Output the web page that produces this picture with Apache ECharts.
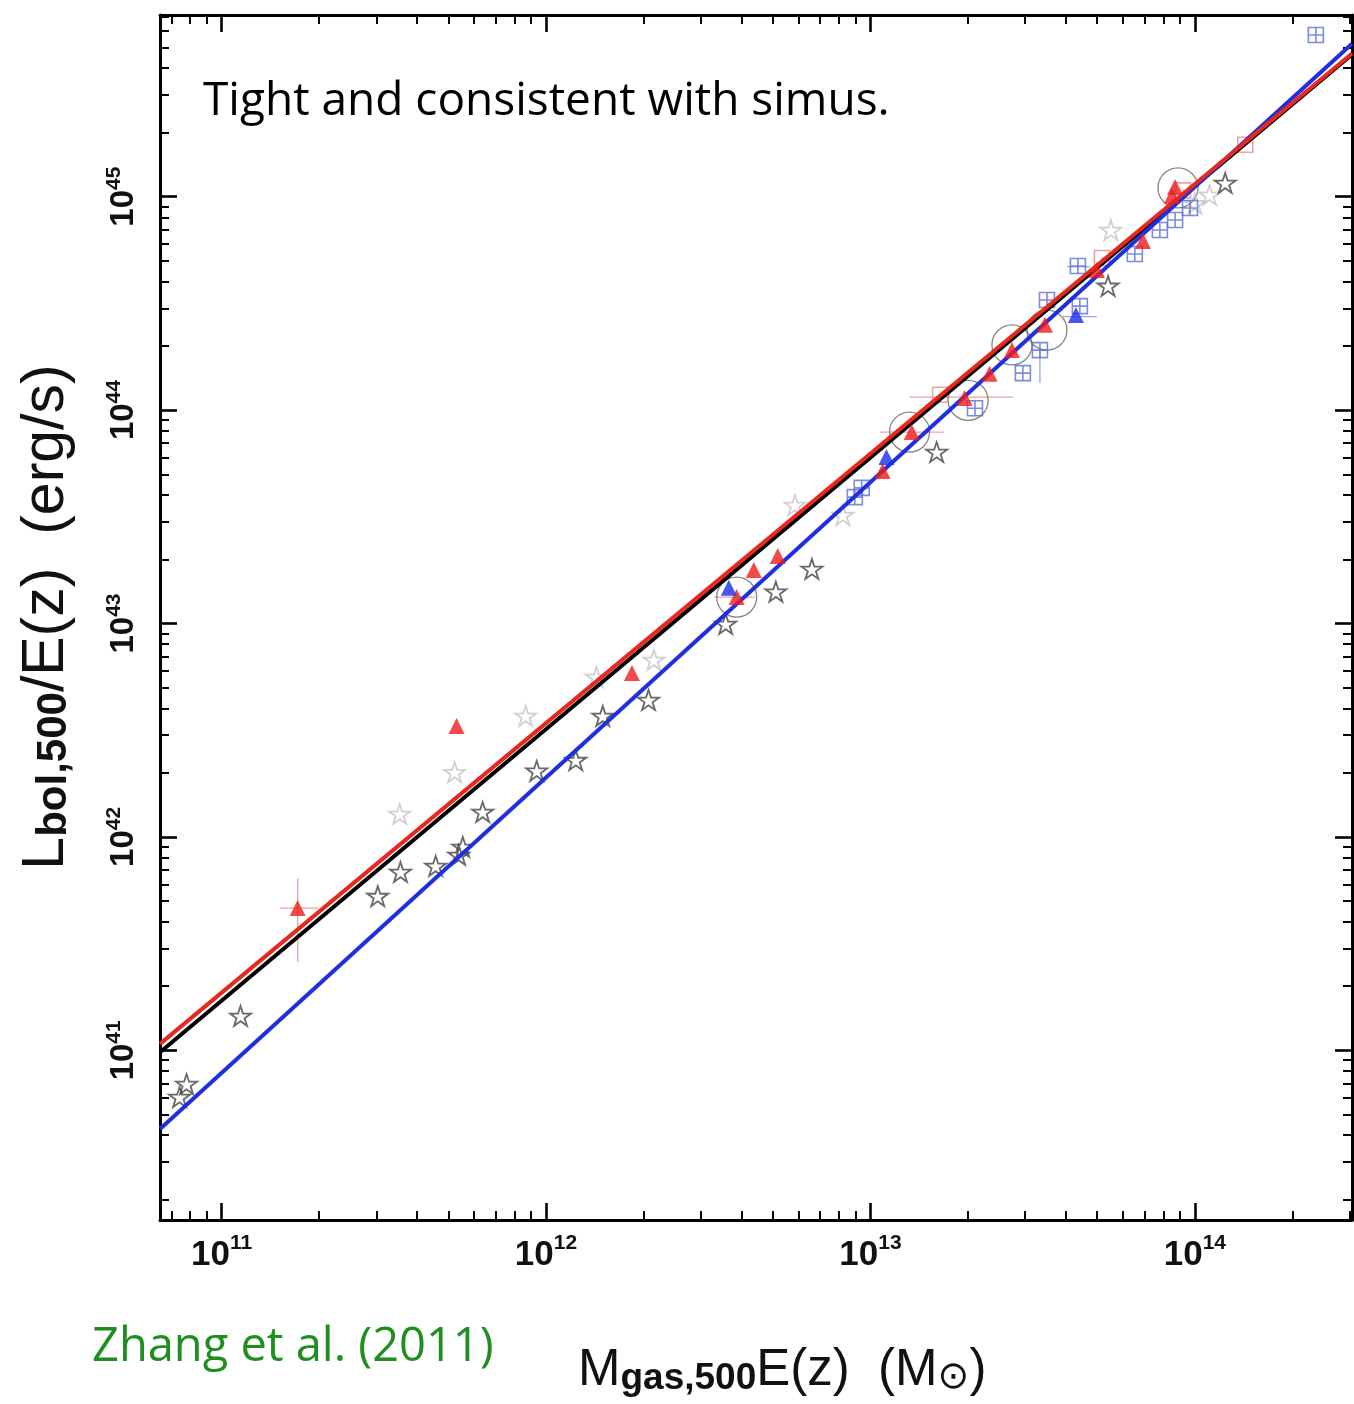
<!DOCTYPE html>
<html><head><meta charset="utf-8">
<script src="https://cdn.jsdelivr.net/npm/echarts@6/dist/echarts.min.js"></script>
<style>html,body{margin:0;padding:0;background:#fff}#c{width:1354px;height:1404px}</style>
</head><body><div id="c"></div>
<script>
// ---------------- data ----------------
const xTickExps = [11, 12, 13, 14];            // 10^11 ... 10^14  (Msun)
const yTickExps = [41, 42, 43, 44, 45];        // 10^41 ... 10^45  (erg/s)
const xRange = [6.46e10, 3.05e14];
const yRange = [1.603e40, 7.10e45];

// fit lines (end points)
const fitBlack = [[6.46e10, 9.79e40], [3.05e14, 4.64e45]];
const fitRed   = [[6.46e10, 1.072e41], [3.05e14, 4.69e45]];
const fitBlue  = [[6.46e10, 4.28e40], [3.05e14, 5.21e45]];

// [Mgas, Lbol]
const starsDark = [[7.42e10,6.04e40],[7.80e10,6.95e40],[1.144e11,1.449e41],[3.03e11,5.28e41],[3.56e11,6.85e41],
  [4.57e11,7.31e41],[5.38e11,8.23e41],[5.54e11,8.97e41],[6.38e11,1.309e42],[9.36e11,2.04e42],[1.235e12,2.29e42],
  [1.496e12,3.69e42],[2.07e12,4.38e42],[3.58e12,9.95e42],[5.11e12,1.41e43],[6.60e12,1.80e43],[1.60e13,6.36e43],
  [5.40e13,3.82e44],[1.24e14,1.16e45]];
const starsLight = [[3.54e11,1.28e42],[5.23e11,2.01e42],[8.66e11,3.69e42],[1.43e12,5.61e42],[2.15e12,6.75e42],
  [5.85e12,3.59e43],[8.22e12,3.22e43],[5.51e13,6.98e44],[1.0e14,9.3e44],[1.11e14,1.02e45]];
const triRed = [[1.716e11,4.64e41],[5.30e11,3.31e42],[1.84e12,5.86e42],[3.87e12,1.33e43],[4.37e12,1.78e43],
  [5.18e12,2.07e43],[1.09e13,5.18e43],[1.34e13,7.89e43],[1.95e13,1.14e44],[2.33e13,1.48e44],[2.73e13,1.91e44],
  [3.45e13,2.51e44],[4.99e13,4.53e44],[6.92e13,6.20e44],[8.69e13,1.11e45],[8.50e13,1.01e45]];
const triBlue = [[3.66e12,1.47e43],[1.12e13,6.03e43],[4.30e13,2.79e44]];
const sqBlue = [[2.36e14,5.72e45],[2.95e13,1.49e44],[3.33e13,1.91e44],[4.42e13,3.07e44],[4.36e13,4.73e44],
  [6.53e13,5.39e44],[7.80e13,6.98e44],[8.69e13,7.78e44],[9.66e13,8.85e44],[9.40e12,4.32e43],[8.95e12,3.91e43],
  [2.10e13,1.02e44],[3.50e13,3.28e44]];
const sqRed = [[1.43e14,1.75e45],[1.64e13,1.18e44],[5.17e13,5.16e44],[9.19e13,1.07e45]];
const bigCircles = [[3.87e12,1.33e43],[1.32e13,7.89e43],[2.00e13,1.11e44],[2.73e13,2.02e44],[3.50e13,2.37e44],[8.87e13,1.10e45]];
// error bars [x1, y1, x2, y2]
const errRed = [[1.51e11,4.64e41,1.98e11,4.64e41],[1.716e11,2.59e41,1.716e11,6.41e41],
  [1.32e13,1.15e44,2.75e13,1.15e44],[1.07e13,7.89e43,1.69e13,7.89e43],[3.30e12,1.33e43,4.40e12,1.33e43]];
const errBlue = [[3.33e13,1.34e44,3.33e13,1.91e44],[3.92e13,2.74e44,4.99e13,2.74e44],[4.04e13,4.70e44,4.75e13,4.70e44]];

// ---------------- helpers ----------------
const lg = Math.log10;
const toLog = arr => arr.map(p => [lg(p[0]), lg(p[1])]);
const minorTicks = (lo, hi) => { const r = []; for (let n = lo; n <= hi; n++) for (let k = 2; k <= 9; k++) r.push(lg(k) + n); return r; };

const xMin = lg(xRange[0]), xMax = lg(xRange[1]);
const yMin = lg(yRange[0]), yMax = lg(yRange[1]);

const tickFont = 'Liberation Sans, Arial, sans-serif';
const xLabelRich = {
  b: { fontSize: 35, fontWeight: 'bold', fontFamily: tickFont, color: '#111', lineHeight: 40, verticalAlign: 'bottom' },
  s: { fontSize: 21, fontWeight: 'bold', fontFamily: tickFont, color: '#111', lineHeight: 17, verticalAlign: 'top' }
};
const yLabelRich = {
  b: { fontSize: 33, fontWeight: 'bold', fontFamily: tickFont, color: '#111', lineHeight: 36, verticalAlign: 'bottom' },
  s: { fontSize: 21, fontWeight: 'bold', fontFamily: tickFont, color: '#111', lineHeight: 15, verticalAlign: 'top' }
};

function axis(dim, pos, ticks, len, labels, line) {
  const a = {
    type: 'value', position: pos,
    min: dim === 'x' ? xMin : yMin, max: dim === 'x' ? xMax : yMax,
    splitLine: { show: false },
    axisLine: { show: line, onZero: false, lineStyle: { color: '#000', width: 3 } },
    axisTick: { show: true, inside: true, length: len, customValues: ticks, lineStyle: { color: '#000', width: len > 12 ? 2.6 : 2 } },
    axisLabel: { show: false }
  };
  if (labels) {
    a.axisLabel = dim === 'x'
      ? { show: true, customValues: ticks, margin: 13, formatter: v => '{b|10}{s|' + Math.round(v) + '}', rich: xLabelRich }
      : { show: true, customValues: ticks, margin: 20, rotate: 90, formatter: v => '{b|10}{s|' + Math.round(v) + '}', rich: yLabelRich };
  }
  return a;
}

const starPath = 'path://M50,2 L61.2,36.5 L97.6,36.5 L68.2,57.9 L79.4,92.5 L50,71.1 L20.6,92.5 L31.8,57.9 L2.4,36.5 L38.8,36.5 Z';
const boxCross = 'path://M0,0 L10,0 L10,10 L0,10 Z M5,0 L5,10 M0,5 L10,5';
const boxDot = 'path://M0,0 L10,0 L10,10 L0,10 Z M4.5,5 L5.5,5';

function scatter(data, symbol, size, fill, stroke, bw, z) {
  return { type: 'scatter', data: toLog(data), symbol, symbolSize: size, symbolKeepAspect: true, z,
    itemStyle: { color: fill, borderColor: stroke, borderWidth: bw }, silent: true };
}
function lineSeries(pts, color, z) {
  return { type: 'line', data: toLog(pts), showSymbol: false, z, silent: true,
    lineStyle: { color, width: 4 }, clip: true };
}
function errSeries(bars, color) {
  return { type: 'custom', silent: true, z: 1,
    data: bars.map(b => [lg(b[0]), lg(b[1]), lg(b[2]), lg(b[3])]),
    encode: { x: [0, 2], y: [1, 3] },
    renderItem: (params, api) => {
      const p1 = api.coord([api.value(0), api.value(1)]);
      const p2 = api.coord([api.value(2), api.value(3)]);
      return { type: 'line', shape: { x1: p1[0], y1: p1[1], x2: p2[0], y2: p2[1] }, style: { stroke: color, lineWidth: 1.3 } };
    } };
}

const chart = echarts.init(document.getElementById('c'));
chart.setOption({
  animation: false,
  backgroundColor: '#fff',
  grid: { left: 160, top: 15, width: 1192, height: 1205 },
  xAxis: [
    axis('x', 'bottom', xTickExps, 17, true, true),
    axis('x', 'bottom', minorTicks(10, 14), 9, false, false),
    axis('x', 'top', xTickExps, 17, false, true),
    axis('x', 'top', minorTicks(10, 14), 9, false, false)
  ],
  yAxis: [
    axis('y', 'left', yTickExps, 17, true, true),
    axis('y', 'left', minorTicks(40, 45), 9, false, false),
    axis('y', 'right', yTickExps, 17, false, true),
    axis('y', 'right', minorTicks(40, 45), 9, false, false)
  ],
  series: [
    errSeries(errRed, '#f2a0a0'),
    errSeries(errBlue, '#9aa6ee'),
    scatter(bigCircles, 'circle', 40, 'rgba(0,0,0,0)', '#666', 1.3, 2),
    scatter(starsLight, starPath, 21, 'rgba(0,0,0,0)', '#c4c4c4', 1.8, 3),
    scatter(starsDark, starPath, 21, 'rgba(0,0,0,0)', '#444', 1.8, 3),
    scatter(sqBlue, boxCross, 15, 'rgba(0,0,0,0)', '#5a6ed8', 1.6, 3),
    scatter(sqRed, boxDot, 15, 'rgba(0,0,0,0)', '#ee8888', 1.6, 3),
    lineSeries(fitBlack, '#000000', 4),
    lineSeries(fitBlue, '#1f2fe0', 5),
    lineSeries(fitRed, '#e8281e', 6),
    scatter(triRed, 'triangle', 16, '#f01c1c', '#f01c1c', 0, 7),
    scatter(triBlue, 'triangle', 16, '#1c2ce8', '#1c2ce8', 0, 7)
  ],
  graphic: [
    { type: 'text', x: 203, y: 102, z: 10, style: { text: 'Tight and consistent with simus.', fill: '#000',
      font: '46px "Open Sans", sans-serif', align: 'left', verticalAlign: 'middle' } },
    { type: 'text', x: 92, y: 1348, z: 10, style: { text: 'Zhang et al. (2011)', fill: '#1e8f1e',
      font: '47px "Open Sans", sans-serif', align: 'left', verticalAlign: 'middle' } },
    { type: 'text', x: 578, y: 1371, z: 10, style: {
      text: '{m|M}{s|gas,500}{m|E(z)  (M}{o|⊙}{m|)}', align: 'left', verticalAlign: 'middle',
      rich: {
        m: { fontSize: 51, fontFamily: tickFont, fill: '#111', lineHeight: 52, verticalAlign: 'top' },
        s: { fontSize: 37, fontWeight: 'bold', fontFamily: tickFont, fill: '#111', lineHeight: 37, verticalAlign: 'bottom' },
        o: { fontSize: 38, fontFamily: 'DejaVu Sans', fill: '#111', lineHeight: 36, verticalAlign: 'bottom' }
      } } },
    { type: 'text', x: 46, y: 617, rotation: Math.PI / 2, z: 10, style: {
      text: '{m|L}{s|bol,500}{m|/E(z)  (erg/s)}', align: 'center', verticalAlign: 'middle',
      rich: {
        m: { fontSize: 59, fontFamily: tickFont, fill: '#111', lineHeight: 58, verticalAlign: 'top' },
        s: { fontSize: 42, fontWeight: 'bold', fontFamily: tickFont, fill: '#111', lineHeight: 42, verticalAlign: 'bottom' }
      } } }
  ]
});
</script>
</body></html>
